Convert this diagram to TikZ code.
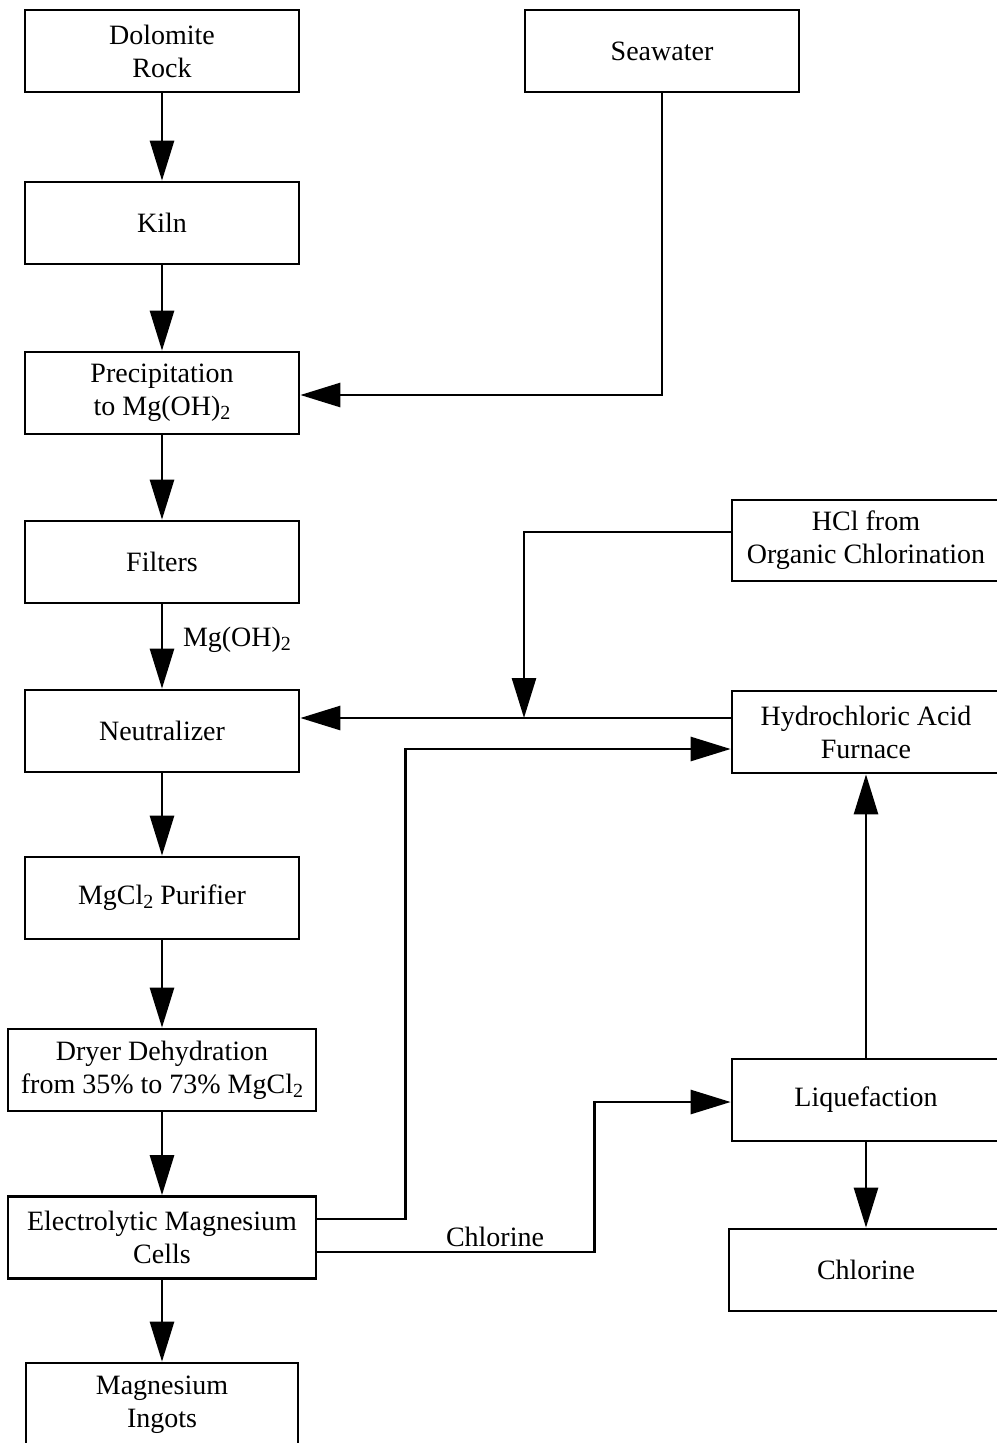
\documentclass[tikz,border=0pt]{standalone}
\usepackage{fontspec}
\setmainfont{Liberation Serif}
\usetikzlibrary{arrows.meta}
\newcommand{\lowsub}[1]{\raisebox{-0.32ex}{\fontsize{20}{20}\selectfont #1}}
\begin{document}
\begin{tikzpicture}[x=1pt,y=-1pt,
  box/.style={draw,line width=2.7pt,inner sep=0pt,align=center,
    minimum width=274pt,minimum height=82pt,
    font=\fontsize{28}{33}\selectfont},
  arr/.style={line width=2.7pt,-{Triangle[length=40pt,width=24pt]}},
  lbl/.style={inner sep=0pt,font=\fontsize{28}{33}\selectfont}]
\useasboundingbox (0,0) rectangle (996,1443);

% left process column
\node[box] (dol) at (162,51) {Dolomite\\Rock};
\node[box] (kiln) at (162,223) {Kiln};
\node[box] (prec) at (162,393) {Precipitation\\to Mg(OH)\lowsub{2}};
\node[box] (filt) at (162,562) {Filters};
\node[box] (neut) at (162,731) {Neutralizer};
\node[box] (puri) at (162,898) {MgCl\lowsub{2} Purifier};
\node[box,minimum width=308pt] (dry) at (162,1070) {Dryer Dehydration\\from 35\% to 73\% MgCl\lowsub{2}};
\node[box,minimum width=308pt] (elec) at (162,1237.5) {Electrolytic Magnesium\\Cells};
\node[box,minimum width=272pt,minimum height=84pt] (ingot) at (162,1405) {Magnesium\\Ingots};

% right column
\node[box] (sea) at (662,51) {Seawater};
\node[box,minimum width=268pt,minimum height=81pt] (hclorg) at (866,540.5) {HCl from\\Organic Chlorination};
\node[box,minimum width=268pt] (furn) at (866,732) {Hydrochloric Acid\\Furnace};
\node[box,minimum width=268pt] (liq) at (866,1100) {Liquefaction};
\node[box,minimum width=274pt] (chl) at (866,1270) {Chlorine};

% main vertical flow
\draw[arr] (dol.south) -- (kiln.north);
\draw[arr] (kiln.south) -- (prec.north);
\draw[arr] (prec.south) -- (filt.north);
\draw[arr] (filt.south) -- (neut.north);
\node[lbl] (mgoh) at (237,640) {Mg(OH)\lowsub{2}};
\draw[arr] (neut.south) -- (puri.north);
\draw[arr] (puri.south) -- (dry.north);
\draw[arr] (dry.south) -- (elec.north);
\draw[arr] (elec.south) -- (ingot.north);

% seawater feed
\draw[arr] (sea.south) |- ([yshift=-2pt]prec.east);

% acid feeds into the neutralizer
\coordinate (j) at (524,718);
\draw[arr] ([yshift=8.5pt]hclorg.west) -| (j);
\draw[arr] (furn.west |- j) -- (neut.east |- j);

% chlorine recycle from the cells
\draw[arr] ([yshift=18.5pt]elec.east) -- ++(88,0) |- ([yshift=-17pt]furn.west);
\draw[arr] ([yshift=-14.5pt]elec.east) -- ++(277,0) |- ([yshift=-2pt]liq.west);
\node[lbl,anchor=base] (clab) at (495,1246) {Chlorine};

\draw[arr] (liq.north) -- (furn.south);
\draw[arr] (liq.south) -- (chl.north);
\end{tikzpicture}
\end{document}
